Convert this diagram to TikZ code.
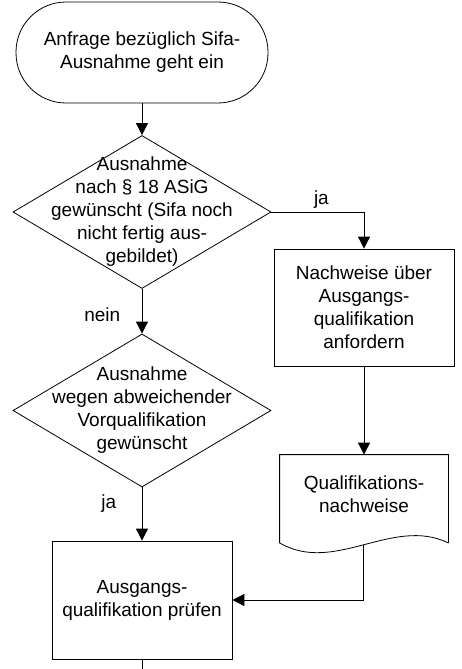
\documentclass[tikz,border=0pt]{standalone}
\usepackage{fontspec}
\setmainfont{Liberation Sans}
\usetikzlibrary{shapes.geometric,arrows.meta}

\begin{document}
\begin{tikzpicture}[
  x=1pt, y=-1pt, line width=0.8pt,
  every node/.style={font=\fontsize{19}{23}\selectfont},
  term/.style={draw, rounded corners=50pt, minimum width=252pt,
               minimum height=101pt, align=center},
  decision/.style={draw, diamond, minimum width=258pt, minimum height=153pt,
                   inner sep=0pt},
  dtext/.style={align=center, inner sep=0pt},
  proc/.style={draw, minimum width=180pt, align=center},
  arr/.style={-{Triangle[length=12pt,width=12pt]}},
]
\useasboundingbox (0,0) rectangle (462,669);

\node[term] (start) at (142,52.5) {Anfrage bezüglich Sifa-\\Ausnahme geht ein};

\node[decision] (q1) at (142,212) {};
\node[dtext] (q1text) at (q1.center) {
  Ausnahme\\
  nach § 18 ASiG\\
  gewünscht (Sifa noch\\
  nicht fertig aus-\\
  gebildet)
};

\node[proc, minimum height=117pt] (nachw) at (364,307.5) {
  Nachweise über\\
  Ausgangs-\\
  qualifikation\\
  anfordern
};

\node[decision] (q2) at (142,410.5) {};
\node[dtext] (q2text) at (q2.center) {
  Ausnahme\\
  wegen abweichender\\
  Vorqualifikation\\
  gewünscht
};

\node[minimum width=168pt, minimum height=87.5pt, inner sep=0pt] (doc) at (364,498.75) {};
\node[align=center] (doctext) at (364,494) {Qualifikations-\\nachweise};
\draw (doc.south east) -- (doc.north east) -- (doc.north west) -- (doc.south west)
  .. controls +(55,32) and +(-56,-27) .. coordinate[pos=0.5] (docout) (doc.south east);

\node[proc, minimum height=118pt] (check) at (142,600) {
  Ausgangs-\\
  qualifikation prüfen
};
\coordinate (out) at (142,669);

\draw[arr] (start) -- (q1);
\draw[arr] (q1.east) -| node[pos=0.27, above] {ja} (nachw.north);
\draw[arr] (q1.south) -- node[pos=0.57, left=18pt] {nein} (q2.north);
\draw[arr] (q2.south) -- node[pos=0.3, left=22pt] {ja} (check.north);
\draw[arr] (nachw) -- (doc.north);
\draw[arr] (docout) |- (check.east);
\draw (check) -- (out);

\end{tikzpicture}
\end{document}
